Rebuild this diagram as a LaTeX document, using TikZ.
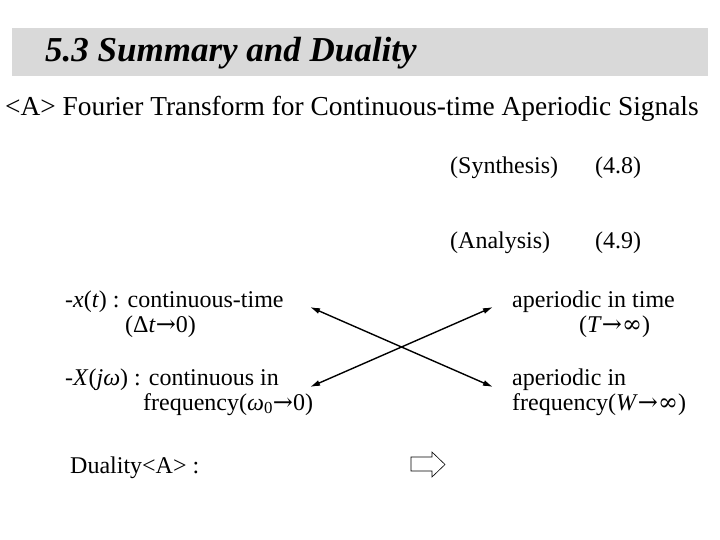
\documentclass[tikz,border=0pt]{standalone}
\usepackage{fontspec}
\setmainfont{Liberation Serif}
\newfontfamily\symfont{DejaVu Serif}
\usepackage{tikz}
\usetikzlibrary{arrows.meta}
\definecolor{bannergray}{HTML}{D9D9D9}
\tikzset{
  body/.style={anchor=base west, inner sep=0pt, font=\fontsize{24}{24}\selectfont},
  crossarrow/.style={{Latex[length=10pt,width=6pt]}-{Latex[length=10pt,width=6pt]}, line width=1.4pt},
}
\newcommand{\tendsto}{{\symfont →}}
\newcommand{\infsym}{{\symfont ∞}}

\begin{document}
\begin{tikzpicture}[x=1pt,y=-1pt]
  \useasboundingbox (0,0) rectangle (720,540);

  % Title banner
  \fill[bannergray] (12,28) rectangle (708,76);
  \node[body, font=\fontsize{35}{35}\selectfont\bfseries\itshape] (title) at (45,62) {5.3 Summary and Duality};
  \node[body, font=\fontsize{27.4}{27.4}\selectfont] (subtitle) at (5,116) {<A> Fourier Transform for Continuous-time Aperiodic Signals};

  % Synthesis / analysis labels
  \node[body] (synth) at (450,174) {(Synthesis)};
  \node[body] (synthno) at (595,174) {(4.8)};
  \node[body] (anal) at (450,248) {(Analysis)};
  \node[body] (analno) at (595,248) {(4.9)};

  % Left column
  \node[body] (xt) at (65,307) {-\textit{x}(\textit{t}) : continuous-time};
  \node[body] (dt) at (125,332) {(Δ\textit{t}\tendsto0)};
  \node[body] (Xjw) at (65,385) {-\textit{X}(\textit{jω}) : continuous in};
  \node[body] (wzero) at (143,410) {frequency(\textit{ω}\textsubscript{0}\tendsto0)};

  % Right column
  \node[body] (aptime) at (512,307) {aperiodic in time};
  \node[body] (Tinf) at (579,332) {(\textit{T}\tendsto\infsym)};
  \node[body] (apfreq) at (512,385) {aperiodic in};
  \node[body] (Winf) at (512,410) {frequency(\textit{W}\tendsto\infsym)};

  % Crossed arrows
  \coordinate (lefttop) at (310,307);
  \coordinate (leftbot) at (310,387);
  \coordinate (righttop) at (493,307);
  \coordinate (rightbot) at (493,387);
  \draw[crossarrow] (lefttop) -- (rightbot);
  \draw[crossarrow] (leftbot) -- (righttop);

  % Duality
  \node[body] (duality) at (70,473) {Duality<A> :};
  \draw[line width=0.6pt, fill=white] (411,457) -- (432,457) -- (432,452) -- (445,464.5) -- (432,477) -- (432,471) -- (411,471) -- cycle;
\end{tikzpicture}
\end{document}
